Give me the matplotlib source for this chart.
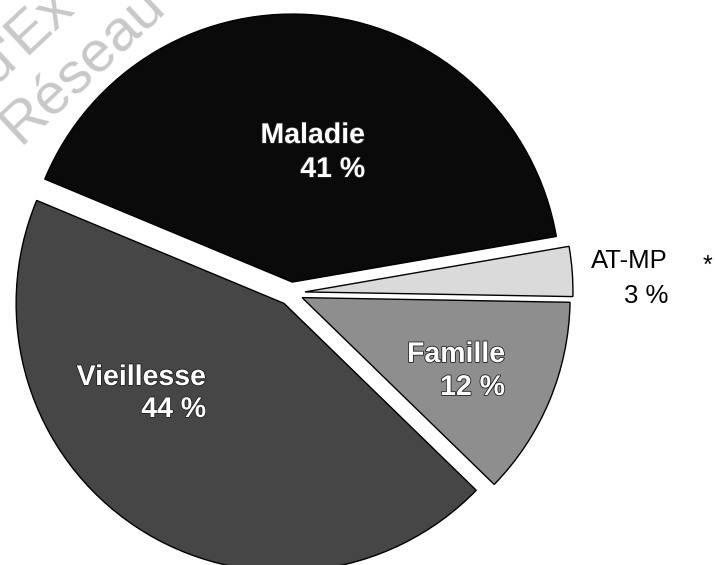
import matplotlib
matplotlib.use("Agg")
import matplotlib.pyplot as plt
import matplotlib.patheffects as pe
import numpy as np

# ---- data ----
categories = ["AT-MP", "Maladie", "Vieillesse", "Famille"]
shares = [3, 41, 44, 12]
pct_labels = ["3 %", "41 %", "44 %", "12 %"]
colors = ["#dadada", "#0a0a0a", "#464646", "#8e8e8e"]
explode = [14, 11, 12.5, 12]

W, H = 715, 565
def Y(y):
    return H - y

fig = plt.figure(figsize=(W / 100, H / 100), dpi=100)
ax = fig.add_axes([0, 0, 1, 1])

# watermark (behind the pie)
wm_font = ["Liberation Sans", "DejaVu Sans"]
ax.text(-6, Y(86), "d'Ex", rotation=43, rotation_mode="anchor", ha="left",
        va="baseline", fontsize=42, color="#c8c8c8", family=wm_font, zorder=0)
ax.text(20, Y(146), "Réseau", rotation=43, rotation_mode="anchor", ha="left",
        va="baseline", fontsize=42, color="#c8c8c8", family=wm_font, zorder=0)

wedges, _ = ax.pie(shares, colors=colors, explode=explode, radius=268,
                   center=(291, Y(293)), startangle=-1, counterclock=True,
                   wedgeprops=dict(edgecolor="black", linewidth=1.0))
for w in wedges:
    w.set_zorder(2)

ax.set_xlim(0, W)
ax.set_ylim(0, H)
ax.set_aspect("equal")
ax.axis("off")

bold_font = ["Liberation Sans", "DejaVu Sans"]
outline = [pe.withStroke(linewidth=1.2, foreground="#222222")]

# label anchors (right edge, baselines of the two lines) in image pixels
label_pos = {
    "Maladie": (365, 143, 177),
    "Vieillesse": (206, 385, 417),
    "Famille": (505, 362, 395),
}
for name, pct in zip(categories, pct_labels):
    if name in label_pos:
        x, y1, y2 = label_pos[name]
        for txt, yy in ((name, y1), (pct, y2)):
            ax.text(x, Y(yy), txt, ha="right", va="baseline", fontsize=20.5,
                    fontweight="bold", color="white", family=bold_font,
                    path_effects=outline, zorder=5)
    else:
        ax.text(668, Y(268), name, ha="right", va="baseline", fontsize=18.5,
                color="black", family=["Liberation Sans", "DejaVu Sans"], zorder=5)
        ax.text(668, Y(303), pct, ha="right", va="baseline", fontsize=18.5,
                color="black", family=["Liberation Sans", "DejaVu Sans"], zorder=5)

ax.text(707, Y(266), "*", ha="center", va="center", fontsize=18,
        color="black", family=["Liberation Sans", "DejaVu Sans"], zorder=5)

fig.savefig("out.png", dpi=100)
